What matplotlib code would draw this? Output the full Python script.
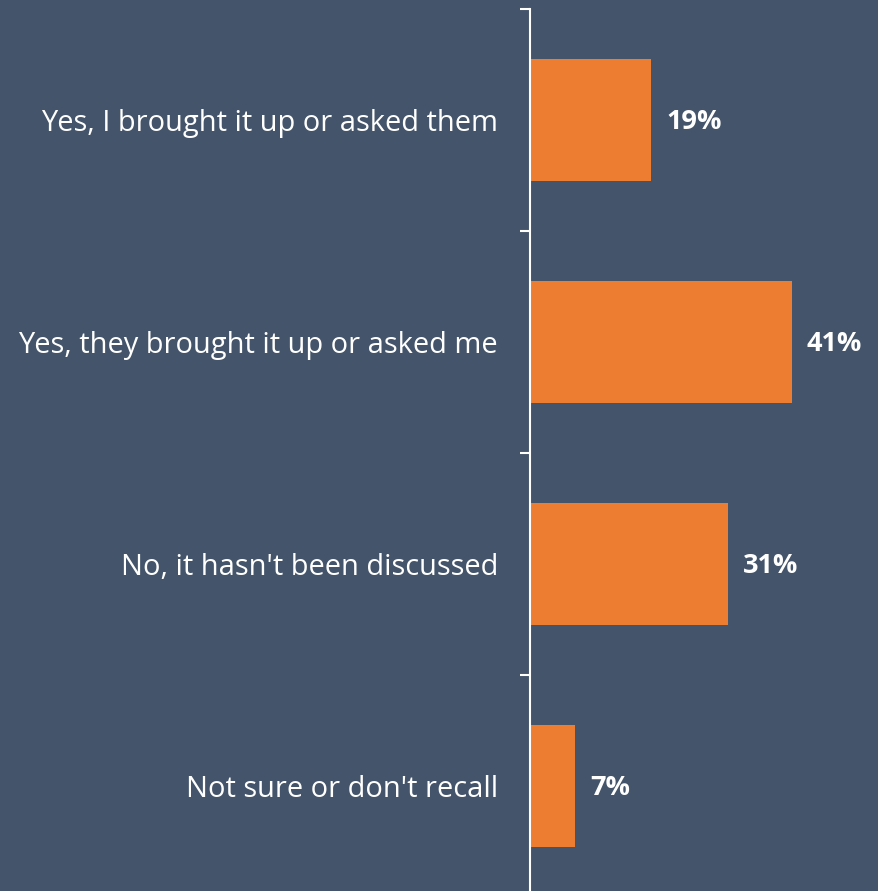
import matplotlib
matplotlib.use("Agg")
import matplotlib.pyplot as plt

categories = [
    "Yes, I brought it up or asked them",
    "Yes, they brought it up or asked me",
    "No, it hasn't been discussed",
    "Not sure or don't recall",
]
values = [19, 41, 31, 7]
value_labels = ["19%", "41%", "31%", "7%"]

BG = "#44546A"
BAR = "#ED7D31"
W, H, DPI = 879, 891, 100

plt.rcParams["font.family"] = ["Open Sans", "DejaVu Sans"]

fig = plt.figure(figsize=(W / DPI, H / DPI), dpi=DPI, facecolor=BG)
ax = fig.add_axes([530 / W, -6 / H, 1 - 530 / W, (897 - 9) / H])
ax.set_facecolor(BG)

pos = list(range(len(categories)))
ax.barh(pos, values, height=0.55, color=BAR)
ax.set_ylim(len(categories) - 0.5, -0.5)
ax.set_xlim(0, 54.7)

for p, v, lab in zip(pos, values, value_labels):
    ax.annotate(lab, (v, p), xytext=(11, -1.5), textcoords="offset points",
                va="center", ha="left", color="white", fontsize=19.5,
                fontweight="bold")

# category boundaries carry the tick marks; labels sit at the bar centres
ax.set_yticks([p - 0.5 for p in pos] + [len(categories) - 0.5])
ax.set_yticklabels([])
ax.set_yticks(pos, minor=True)
ax.set_yticklabels(categories, minor=True)
ax.tick_params(axis="y", which="major", length=7.2, width=1.5, color="white",
               direction="out")
ax.tick_params(axis="y", which="minor", length=0, pad=23, labelsize=20.9,
               labelcolor="white")
ax.set_xticks([])

for s in ["top", "right", "bottom"]:
    ax.spines[s].set_visible(False)
ax.spines["left"].set_color("white")
ax.spines["left"].set_linewidth(1.5)

fig.savefig("out.png", dpi=DPI, facecolor=BG)
